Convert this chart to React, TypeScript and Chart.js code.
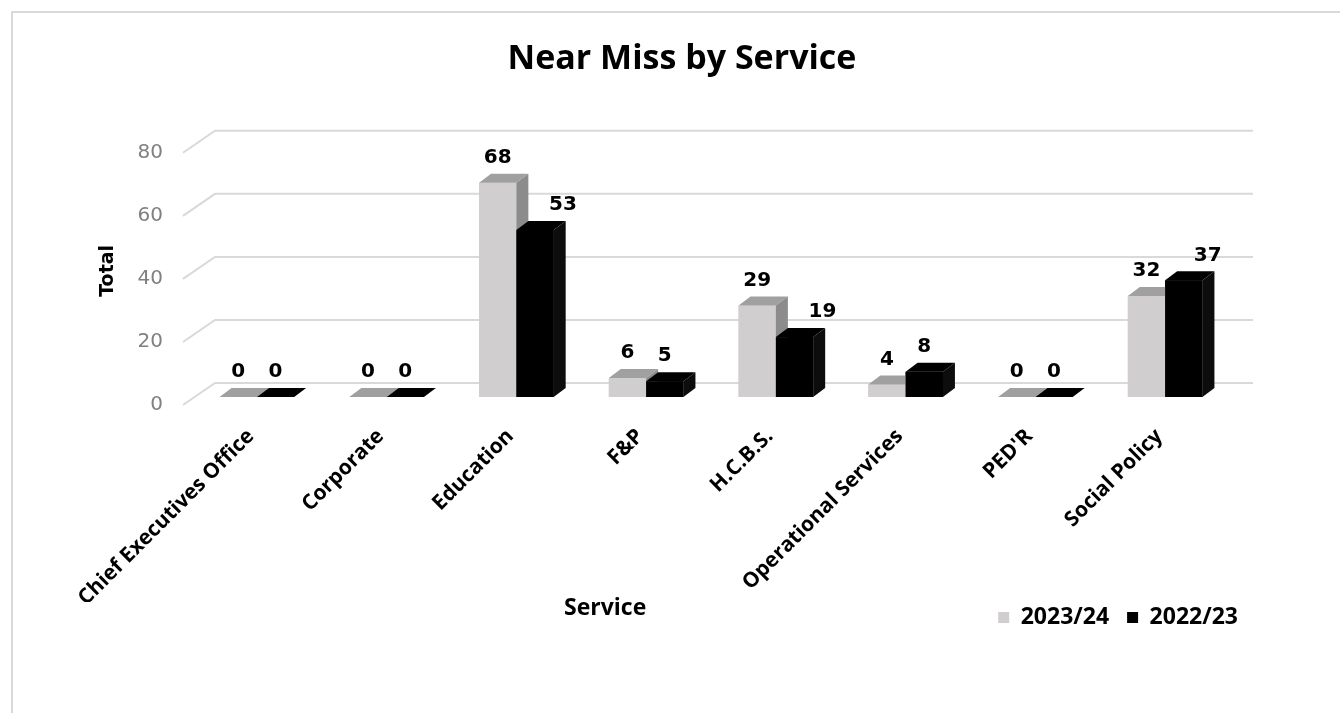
import React, { useEffect, useRef } from "react";
import { Chart, registerables } from "chart.js";

Chart.register(...registerables);

const categories = [
  "Chief Executives Office",
  "Corporate",
  "Education",
  "F&P",
  "H.C.B.S.",
  "Operational Services",
  "PED'R",
  "Social Policy",
];
const series2023 = [0, 0, 68, 6, 29, 4, 0, 32];
const series2022 = [0, 0, 53, 5, 19, 8, 0, 37];
const seriesNames = ["2023/24", "2022/23"];
const yTickValues = [0, 20, 40, 60, 80];

const TITLE = "Near Miss by Service";
const X_TITLE = "Service";
const Y_TITLE = "Total";

// styling for the pseudo 3-D look
const DEPTH_X = 12;
const DEPTH_Y = 9;
const WALL_X = 23;
const WALL_Y = 14;
const FLOOR_X = 9;
const FLOOR_Y = 8;
const GRID_COLOR = "#d9d9d9";
const FACE_COLORS = [
  { front: "#d0cece", top: "#a0a0a0", side: "#8c8c8c" },
  { front: "#000000", top: "#000000", side: "#0d0d0d" },
];
// manual label nudges (px) for the 2022/23 series, as in the source
const LABEL_NUDGE = [
  [0, 0, 0, 0, 0, 0, 0, 0],
  [0, 0, 28, 0, 28, 0, 0, 24],
];
const LEGEND_LIFT = 14;

const threeDPlugin = {
  id: "threeD",
  afterLayout(chart: any) {
    const lg = chart.legend;
    if (lg) {
      lg.top -= LEGEND_LIFT;
      lg.bottom -= LEGEND_LIFT;
    }
  },
  beforeDatasetsDraw(chart: any) {
    const { ctx, chartArea, scales } = chart;
    const y = scales.y;
    ctx.save();
    ctx.strokeStyle = GRID_COLOR;
    ctx.lineWidth = 2;
    for (const v of yTickValues) {
      const py = y.getPixelForValue(v);
      ctx.beginPath();
      ctx.moveTo(chartArea.left - FLOOR_X, py + FLOOR_Y);
      ctx.lineTo(chartArea.left + WALL_X, py - WALL_Y);
      ctx.lineTo(chartArea.right + WALL_X, py - WALL_Y);
      ctx.stroke();
    }
    ctx.restore();
  },
  afterDatasetsDraw(chart: any) {
    const { ctx } = chart;
    const metas = [chart.getDatasetMeta(0), chart.getDatasetMeta(1)];
    ctx.save();
    for (let i = 0; i < categories.length; i++) {
      for (let d = 0; d < 2; d++) {
        const el = metas[d].data[i];
        if (!el) continue;
        const p = el.getProps(["x", "y", "base", "width"], true);
        const x0 = p.x - p.width / 2;
        const x1 = p.x + p.width / 2;
        const top = Math.min(p.y, p.base);
        const base = Math.max(p.y, p.base);
        const c = FACE_COLORS[d];
        ctx.fillStyle = c.front;
        ctx.fillRect(x0, top, x1 - x0, base - top);
        ctx.fillStyle = c.top;
        ctx.beginPath();
        ctx.moveTo(x0, top);
        ctx.lineTo(x1, top);
        ctx.lineTo(x1 + DEPTH_X, top - DEPTH_Y);
        ctx.lineTo(x0 + DEPTH_X, top - DEPTH_Y);
        ctx.closePath();
        ctx.fill();
        ctx.fillStyle = c.side;
        ctx.beginPath();
        ctx.moveTo(x1, top);
        ctx.lineTo(x1 + DEPTH_X, top - DEPTH_Y);
        ctx.lineTo(x1 + DEPTH_X, base - DEPTH_Y);
        ctx.lineTo(x1, base);
        ctx.closePath();
        ctx.fill();
      }
    }
    ctx.fillStyle = "#000";
    ctx.font = "bold 20px 'DejaVu Sans'";
    ctx.textAlign = "center";
    ctx.textBaseline = "middle";
    for (let d = 0; d < 2; d++) {
      const values = chart.data.datasets[d].data;
      metas[d].data.forEach((el: any, i: number) => {
        const p = el.getProps(["x", "y"], true);
        ctx.fillText(String(values[i]), p.x + LABEL_NUDGE[d][i], p.y - DEPTH_Y - 16);
      });
    }
    const area = chart.chartArea;
    ctx.font = "bold 23px 'Open Sans'";
    ctx.fillText(X_TITLE, area.left + (area.right - area.left) * 0.398, area.bottom + 211);
    ctx.restore();
  },
};

export default function App() {
  const ref = useRef<HTMLCanvasElement | null>(null);
  useEffect(() => {
    if (!ref.current) return;
    const chart = new Chart(ref.current, {
      type: "bar",
      data: {
        labels: categories,
        datasets: [
          {
            label: seriesNames[0],
            data: series2023,
            backgroundColor: FACE_COLORS[0].front,
            borderWidth: 0,
            categoryPercentage: 0.575,
            barPercentage: 1,
          },
          {
            label: seriesNames[1],
            data: series2022,
            backgroundColor: FACE_COLORS[1].front,
            borderWidth: 0,
            categoryPercentage: 0.575,
            barPercentage: 1,
          },
        ],
      },
      options: {
        responsive: false,
        animation: false,
        layout: { padding: { left: 108, right: 84, top: 0, bottom: 60 } },
        plugins: {
          title: {
            display: true,
            text: TITLE,
            color: "#000",
            font: { family: "Open Sans", size: 34, weight: "bold", lineHeight: 1.2 },
            padding: { top: 39, bottom: 65 },
          },
          legend: {
            position: "bottom",
            align: "end",
            labels: {
              boxWidth: 11,
              boxHeight: 11,
              color: "#000",
              padding: 18,
              font: { family: "Open Sans", size: 23, weight: "bold" },
            },
          },
          tooltip: { enabled: false },
        },
        scales: {
          x: {
            grid: { display: false },
            border: { display: false },
            afterFit(scale: any) {
              scale.paddingLeft = 0;
              scale.paddingRight = 0;
              scale.height = 205;
            },
            ticks: {
              minRotation: 45,
              maxRotation: 45,
              padding: 19,
              labelOffset: -6,
              color: "#000",
              font: { family: "Open Sans", size: 21, weight: "bold" },
            },
          },
          y: {
            min: 0,
            max: 80,
            grid: { display: false },
            border: { display: false },
            afterFit(scale: any) {
              scale.width = 84;
            },
            ticks: {
              stepSize: 20,
              padding: 21,
              labelOffset: 8,
              color: "#808080",
              font: { family: "DejaVu Sans", size: 20 },
            },
            title: {
              display: true,
              text: Y_TITLE,
              color: "#000",
              font: { family: "DejaVu Sans", size: 19, weight: "bold" },
              padding: { top: -11, bottom: 0 },
            },
          },
          yRightSpacer: {
            type: "linear",
            position: "right",
            display: true,
            grid: { display: false },
            border: { display: false },
            ticks: { display: false },
            afterFit(scale: any) {
              scale.width = 26;
            },
          },
        },
      },
      plugins: [threeDPlugin],
    } as any);
    return () => chart.destroy();
  }, []);

  return (
    <div
      style={{
        position: "fixed",
        left: 0,
        top: 0,
        width: 1340,
        height: 713,
        overflow: "hidden",
        background: "#fff",
      }}
    >
      <div
        style={{
          position: "absolute",
          left: 11,
          top: 11,
          width: 1400,
          height: 800,
          borderLeft: "2px solid #d9d9d9",
          borderTop: "2px solid #d9d9d9",
        }}
      />
      <canvas
        ref={ref}
        width={1340}
        height={713}
        style={{ position: "absolute", left: 0, top: 0, width: 1340, height: 713 }}
      />
    </div>
  );
}
